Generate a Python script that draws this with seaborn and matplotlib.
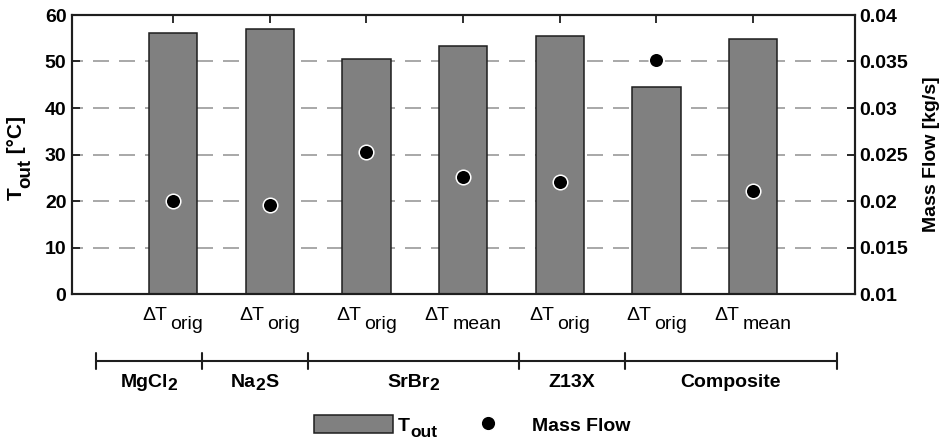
import numpy as np
import pandas as pd
import matplotlib
matplotlib.use("Agg")
import matplotlib.pyplot as plt
import matplotlib.transforms as mtransforms
from matplotlib.patches import Patch
from matplotlib.lines import Line2D
import seaborn as sns

# ---------------- data ----------------
cases = ["orig", "orig", "orig", "mean", "orig", "orig", "mean"]
t_out = [56.2, 56.9, 50.5, 53.3, 55.5, 44.6, 54.9]
mass_flow = [0.0200, 0.01957, 0.0253, 0.02258, 0.02208, 0.03516, 0.02107]
groups = [["MgCl", "2"], ["Na", "2", "S"], ["SrBr", "2"], ["Z13X"], ["Composite"]]
group_sizes = [1, 1, 2, 1, 2]
left_ticks = [0, 10, 20, 30, 40, 50, 60]
right_ticks = [0.01, 0.015, 0.02, 0.025, 0.03, 0.035, 0.04]
right_ticklabels = ["0.01", "0.015", "0.02", "0.025", "0.03", "0.035", "0.04"]

W, H = 948, 440
sns.set_theme(style="white")
plt.rcParams["font.family"] = ["Liberation Sans", "DejaVu Sans"]
for k in ("text.color", "axes.labelcolor", "xtick.color", "ytick.color"):
    plt.rcParams[k] = "black"

DARK = "#1e1e1e"
fig = plt.figure(figsize=(W / 100, H / 100), dpi=100)
ax = fig.add_axes([72 / W, 1 - 294 / H, 783 / W, 279 / H])

df = pd.DataFrame({"pos": np.arange(len(t_out)), "t_out": t_out, "mass": mass_flow})

sns.barplot(data=df, x="pos", y="t_out", ax=ax, color="#808080", saturation=1,
            width=0.5, edgecolor=DARK, linewidth=1.1, zorder=2)
ax.set_xlim(-1.045, 7.055)
ax.set_ylim(0, 60)
ax.set_yticks(left_ticks)
ax.set_axisbelow(True)
ax.yaxis.grid(True, color="#9a9a9a", linewidth=1.2, linestyle=(3, (9.6, 6)))
ax.xaxis.grid(False)
ax.set_xlabel("")
ax.set_ylabel("")
ax.set_xticks(np.arange(len(t_out)))
ax.set_xticklabels([])
ax.tick_params(axis="x", which="both", direction="in", length=5.5, width=1.3,
               color=DARK, top=True, bottom=True)
ax.tick_params(axis="y", direction="in", length=5.5, width=1.3, color=DARK,
               left=True, right=False, labelsize=14, pad=4, labelcolor="black")
for lab in ax.get_yticklabels():
    lab.set_fontweight("bold")

ax2 = ax.twinx()
sns.scatterplot(data=df, x="pos", y="mass", ax=ax2, color="black", s=110,
                edgecolor="white", linewidth=1.1, zorder=5, legend=False)
ax2.set_ylim(0.01, 0.04)
ax2.set_yticks(right_ticks)
ax2.set_yticklabels(right_ticklabels, fontweight="bold", fontsize=14)
ax2.tick_params(axis="y", direction="in", length=5.5, width=1.3, color=DARK,
                right=True, left=False, pad=3, labelcolor="black")
ax2.set_xlim(ax.get_xlim())
ax2.set_xlabel("")
ax2.set_ylabel("Mass Flow [kg/s]", fontsize=14, fontweight="bold", labelpad=11,
               color="black")

for a in (ax, ax2):
    for sp in a.spines.values():
        sp.set_visible(True)
        sp.set_color(DARK)
        sp.set_linewidth(1.5)

# pixel transform (origin top-left, y downward)
pix = mtransforms.Affine2D().scale(1 / W, -1 / H).translate(0, 1) + fig.transFigure
renderer = fig.canvas.get_renderer()


def piece_text(xc, y_base, pieces, size, weight, gap=0.0, vertical=False):
    """pieces: list of (text, drop_px, size_factor). Centered on xc (or on y if vertical)."""
    objs, lens = [], []
    for txt, dy, sf in pieces:
        t = fig.text(0, 0, txt, transform=pix, fontsize=size * sf, fontweight=weight,
                     ha="left", va="baseline", color="black",
                     rotation=90 if vertical else 0, rotation_mode="anchor")
        objs.append(t)
        ext = t.get_window_extent(renderer)
        lens.append(ext.height if vertical else ext.width)
    total = sum(lens) + gap * (len(pieces) - 1)
    if vertical:
        y = xc + total / 2
        for t, L, (txt, dy, sf) in zip(objs, lens, pieces):
            t.set_position((y_base + dy, y))
            y -= L + gap
    else:
        x = xc - total / 2
        for t, L, (txt, dy, sf) in zip(objs, lens, pieces):
            t.set_position((x, y_base + dy))
            x += L + gap
    return objs


# left axis label T_out [°C]
piece_text(158, 22, [("T", 0, 1.0), ("out", 8, 0.9), (" [°C]", 0, 1.0)], 15, "bold",
           vertical=True)

# ΔT case labels under each bar
for i, c in enumerate(cases):
    xpx = ax.transData.transform((i, 0))[0]
    piece_text(xpx, 320, [("ΔT", 0, 1.0), (c, 9, 1.0)], 14, "normal", gap=3)

# group brackets
x0, unit = 96.0, 105.8
bounds = np.concatenate([[0], np.cumsum(group_sizes)])
yb = 361
fig.add_artist(Line2D([(x0 + bounds[0] * unit) / W, (x0 + bounds[-1] * unit) / W],
                      [1 - yb / H, 1 - yb / H], color=DARK, lw=1.5))
for b in bounds:
    xb = (x0 + b * unit) / W
    fig.add_artist(Line2D([xb, xb], [1 - 353 / H, 1 - 369 / H], color=DARK, lw=1.5))
for g, name in enumerate(groups):
    xc = x0 + (bounds[g] + bounds[g + 1]) / 2 * unit
    pieces = [(p, 3.5, 0.9) if p.isdigit() else (p, 0, 1.0) for p in name]
    piece_text(xc, 387, pieces, 14, "bold")

# legend
handles = [Patch(facecolor="#808080", edgecolor=DARK, linewidth=1.1),
           Line2D([], [], marker="o", linestyle="", color="black",
                  markeredgecolor="white", markersize=10.5)]
leg = fig.legend(handles=handles, labels=["T", "Mass Flow"],
                 loc="center", bbox_to_anchor=(472 / W, 1 - 425 / H), ncol=2, frameon=False,
                 handlelength=4.1, handleheight=1.05, columnspacing=2.0, handletextpad=0.2,
                 prop={"weight": "bold", "size": 14})
fig.canvas.draw()
ext = leg.get_texts()[0].get_window_extent(renderer)
# baseline of "T" in pixel-from-top coords: bottom of bbox minus descent approx
base_y = H - ext.y0 - 3
fig.text(ext.x1 + 1, base_y + 5, "out", transform=pix, fontsize=12.5,
         fontweight="bold", ha="left", va="baseline", color="black")

fig.savefig("out.png", dpi=100)
